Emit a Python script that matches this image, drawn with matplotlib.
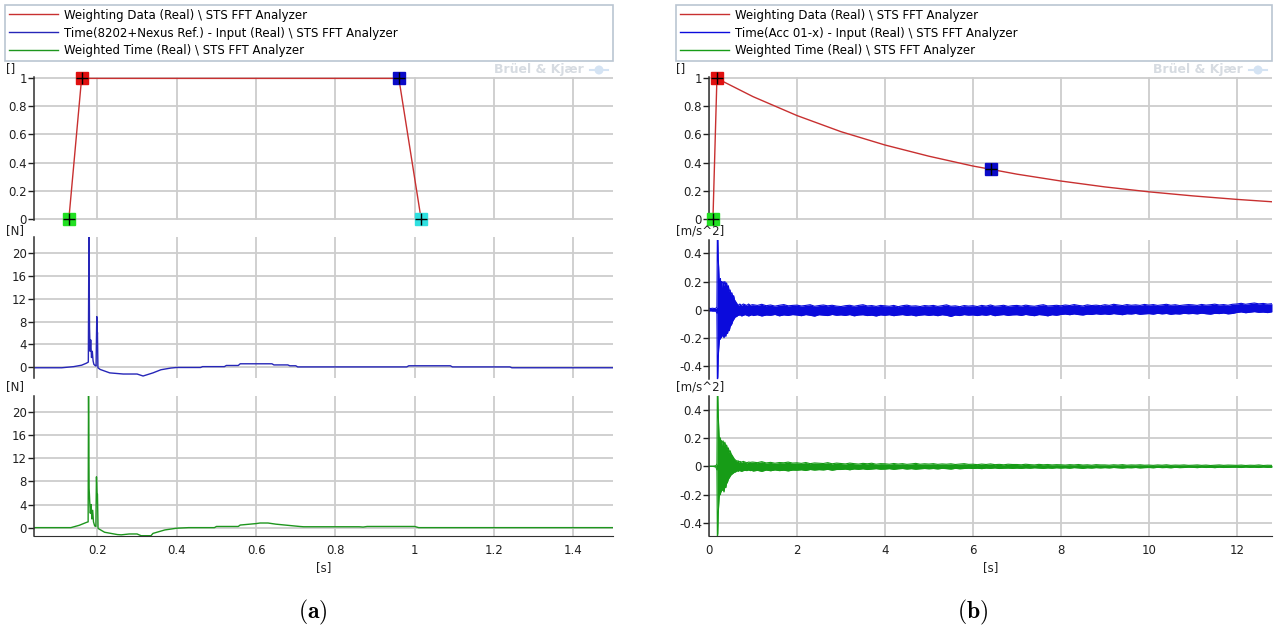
import numpy as np
import matplotlib
matplotlib.use("Agg")
import matplotlib.pyplot as plt
from matplotlib.patches import Ellipse
from matplotlib.ticker import FuncFormatter, MultipleLocator

plt.rcParams["font.family"] = "DejaVu Sans"
plt.rcParams["axes.unicode_minus"] = False
plt.rcParams["mathtext.fontset"] = "cm"

W, H = 1274, 635

RED = "#c83030"
BLUE_A = "#2626b8"
GREEN_A = "#1e961e"
BLUE_B = "#0b0bdc"
GREEN_B = "#179c17"
GRID = "#cdcdcd"

# ---------------- (a) impact hammer, transient window ----------------
a_win_t = [0.128, 0.160, 0.960, 1.016]
a_win_v = [0.0, 1.0, 1.0, 0.0]
a_marker_colors = ["#22e022", "#e01010", "#0b0bc8", "#30e0e0"]

a_force_t = [0.040, 0.110, 0.140, 0.160, 0.172, 0.1770, 0.1785, 0.1800, 0.1815,
             0.1830, 0.1850, 0.1870, 0.1890, 0.1910, 0.1940, 0.1965, 0.1983,
             0.1995, 0.2000, 0.2012, 0.207, 0.231, 0.265, 0.300, 0.315, 0.340,
             0.360, 0.385, 0.400, 0.460, 0.465, 0.520, 0.525, 0.555, 0.560,
             0.640, 0.645, 0.680, 0.685, 0.700, 0.705, 0.980, 0.985, 1.090,
             1.095, 1.240, 1.245, 1.500]
a_force_v = [-0.10, -0.10, 0.10, 0.35, 0.70, 0.90, 24.0, 7.0, 2.8,
             4.8, 1.7, 2.8, 1.1, 0.5, 0.3, 0.2, 8.9,
             5.5, 6.1, -0.10, -0.40, -1.00, -1.20, -1.20, -1.55, -1.00,
             -0.45, -0.15, -0.05, -0.05, 0.10, 0.10, 0.30, 0.30, 0.60,
             0.60, 0.40, 0.40, 0.25, 0.25, 0.05, 0.05, 0.25, 0.25,
             0.05, 0.05, -0.10, -0.10]

a_wforce_t = [0.040, 0.133, 0.154, 0.172, 0.1765, 0.1775, 0.1790, 0.1805, 0.1820,
              0.1840, 0.1860, 0.1880, 0.1900, 0.1930, 0.1960, 0.1975, 0.1990,
              0.2000, 0.2015, 0.2030, 0.218, 0.250, 0.260, 0.280, 0.300, 0.310,
              0.335, 0.340, 0.370, 0.400, 0.430, 0.495, 0.500, 0.555, 0.560,
              0.600, 0.610, 0.630, 0.650, 0.680, 0.710, 0.720, 0.860, 0.870,
              0.880, 1.000, 1.010, 1.500]
a_wforce_v = [0.0, 0.0, 0.4, 0.9, 1.0, 24.0, 6.8, 4.5, 2.5,
              4.0, 1.5, 3.0, 1.0, 0.3, 0.2, 8.8, 6.0,
              5.8, -0.10, -0.20, -0.80, -1.20, -1.25, -1.10, -1.10, -1.40,
              -1.40, -1.00, -0.40, -0.10, 0.0, 0.0, 0.20, 0.20, 0.45,
              0.70, 0.80, 0.80, 0.60, 0.40, 0.20, 0.15, 0.15, 0.10,
              0.20, 0.20, 0.0, 0.0]

# ---------------- (b) accelerometer, exponential window ----------------
b_win_t = [0.09, 0.18, 1.0, 2.0, 3.0, 4.0, 5.0, 6.0, 6.4, 7.0, 8.0, 9.0,
           10.0, 11.0, 12.0, 12.8]
b_win_v = [0.0, 1.0, 0.87, 0.735, 0.62, 0.525, 0.445, 0.375, 0.352, 0.317,
           0.268, 0.226, 0.191, 0.162, 0.137, 0.12]
b_marker_idx = [0, 1, 8]
b_marker_colors = ["#22e022", "#e01010", "#0b0bc8"]

# dense traces stored as min/max per sample column
b_head_t = [0.00, 0.04, 0.08, 0.12, 0.16, 0.18, 0.19, 0.20, 0.21, 0.22, 0.23,
            0.24, 0.25, 0.26, 0.27, 0.28, 0.29, 0.30, 0.32, 0.34, 0.36, 0.38,
            0.40, 0.42, 0.44, 0.46, 0.48, 0.50, 0.52, 0.54, 0.56, 0.58, 0.60,
            0.62, 0.64, 0.66, 0.68, 0.70, 0.74, 0.78, 0.82, 0.86, 0.90, 0.94,
            0.98]
b_tail_t = list(np.round(np.arange(1.0, 12.85, 0.1), 1))

b_acc_hi = [0.010, 0.008, 0.010, 0.008, 0.010, 0.020, 0.550, 0.520, 0.360, 0.300, 0.220,
            0.210, 0.180, 0.220, 0.170, 0.200, 0.160, 0.190, 0.200, 0.170, 0.200, 0.180,
            0.190, 0.150, 0.170, 0.130, 0.140, 0.110, 0.120, 0.090, 0.100, 0.070, 0.060,
            0.050, 0.040, 0.035, 0.030, 0.040, 0.030, 0.040, 0.035, 0.030, 0.040, 0.030,
            0.035,
            0.035, 0.030, 0.038, 0.028, 0.033, 0.025, 0.031, 0.036, 0.027, 0.030,
            0.032, 0.026, 0.030, 0.035, 0.024, 0.029, 0.033, 0.027, 0.031, 0.025,
            0.022, 0.028, 0.031, 0.024, 0.030, 0.035, 0.026, 0.029, 0.023, 0.030,
            0.027, 0.024, 0.030, 0.021, 0.028, 0.032, 0.025, 0.027, 0.022, 0.029,
            0.026, 0.030, 0.023, 0.028, 0.034, 0.024, 0.027, 0.021, 0.029, 0.025,
            0.028, 0.022, 0.030, 0.025, 0.033, 0.024, 0.027, 0.031, 0.023, 0.028,
            0.030, 0.025, 0.032, 0.027, 0.024, 0.030, 0.035, 0.026, 0.028, 0.031,
            0.027, 0.033, 0.029, 0.036, 0.030, 0.026, 0.034, 0.029, 0.032, 0.028,
            0.035, 0.030, 0.038, 0.033, 0.029, 0.036, 0.031, 0.034, 0.030, 0.037,
            0.032, 0.036, 0.030, 0.034, 0.038, 0.031, 0.035, 0.029, 0.033, 0.036,
            0.034, 0.030, 0.037, 0.032, 0.035, 0.039, 0.033, 0.036, 0.031, 0.038,
            0.040, 0.045, 0.038, 0.043, 0.047, 0.041, 0.044, 0.039, 0.042]
b_acc_lo = [-0.010, -0.008, -0.010, -0.010, -0.010, -0.030, -0.500, -0.480, -0.340, -0.280, -0.240,
            -0.200, -0.190, -0.210, -0.180, -0.200, -0.170, -0.190, -0.180, -0.200, -0.170, -0.190,
            -0.160, -0.170, -0.140, -0.150, -0.120, -0.110, -0.100, -0.080, -0.070, -0.060, -0.050,
            -0.050, -0.045, -0.040, -0.040, -0.035, -0.045, -0.040, -0.035, -0.040, -0.045, -0.040,
            -0.035,
            -0.042, -0.036, -0.045, -0.038, -0.040, -0.034, -0.044, -0.037, -0.041, -0.035,
            -0.038, -0.043, -0.035, -0.040, -0.046, -0.036, -0.039, -0.042, -0.034, -0.040,
            -0.037, -0.041, -0.035, -0.044, -0.038, -0.036, -0.042, -0.039, -0.045, -0.037,
            -0.040, -0.036, -0.043, -0.038, -0.035, -0.041, -0.037, -0.044, -0.039, -0.036,
            -0.041, -0.037, -0.043, -0.036, -0.040, -0.048, -0.038, -0.042, -0.035, -0.039,
            -0.037, -0.042, -0.036, -0.040, -0.034, -0.043, -0.038, -0.035, -0.041, -0.037,
            -0.036, -0.041, -0.034, -0.039, -0.043, -0.035, -0.038, -0.044, -0.036, -0.040,
            -0.034, -0.031, -0.036, -0.030, -0.035, -0.038, -0.032, -0.034, -0.029, -0.033,
            -0.030, -0.034, -0.028, -0.032, -0.036, -0.029, -0.031, -0.027, -0.033, -0.030,
            -0.028, -0.032, -0.026, -0.030, -0.027, -0.033, -0.029, -0.031, -0.026, -0.029,
            -0.027, -0.030, -0.025, -0.029, -0.032, -0.026, -0.028, -0.024, -0.030, -0.027,
            -0.020, -0.016, -0.022, -0.018, -0.014, -0.019, -0.017, -0.021, -0.015]

b_wacc_hi = [0.000, 0.000, 0.000, 0.002, 0.005, 0.020, 0.550, 0.500, 0.360, 0.280, 0.210,
             0.200, 0.170, 0.200, 0.160, 0.180, 0.150, 0.170, 0.180, 0.150, 0.170, 0.140,
             0.150, 0.120, 0.130, 0.100, 0.110, 0.090, 0.080, 0.070, 0.060, 0.050, 0.045,
             0.040, 0.035, 0.040, 0.030, 0.035, 0.030, 0.035, 0.030, 0.025, 0.030, 0.028,
             0.030,
             0.030, 0.026, 0.033, 0.024, 0.028, 0.022, 0.027, 0.025, 0.030, 0.023,
             0.025, 0.021, 0.027, 0.019, 0.024, 0.022, 0.020, 0.026, 0.018, 0.023,
             0.020, 0.017, 0.023, 0.019, 0.016, 0.021, 0.018, 0.022, 0.015, 0.019,
             0.018, 0.015, 0.020, 0.016, 0.019, 0.014, 0.017, 0.021, 0.015, 0.018,
             0.016, 0.019, 0.014, 0.017, 0.015, 0.018, 0.013, 0.016, 0.019, 0.014,
             0.015, 0.012, 0.016, 0.013, 0.017, 0.012, 0.014, 0.011, 0.015, 0.013,
             0.013, 0.011, 0.015, 0.012, 0.010, 0.014, 0.011, 0.013, 0.010, 0.012,
             0.011, 0.009, 0.012, 0.010, 0.013, 0.009, 0.011, 0.008, 0.012, 0.010,
             0.010, 0.008, 0.011, 0.009, 0.012, 0.008, 0.010, 0.009, 0.011, 0.008,
             0.009, 0.007, 0.010, 0.008, 0.011, 0.007, 0.009, 0.008, 0.010, 0.007,
             0.008, 0.010, 0.007, 0.009, 0.006, 0.008, 0.010, 0.007, 0.009, 0.008,
             0.007, 0.009, 0.006, 0.008, 0.007, 0.010, 0.006, 0.008, 0.007]
b_wacc_lo = [0.000, 0.000, 0.000, -0.002, -0.005, -0.030, -0.500, -0.470, -0.330, -0.270, -0.220,
             -0.190, -0.180, -0.200, -0.160, -0.180, -0.150, -0.170, -0.160, -0.180, -0.140, -0.150,
             -0.120, -0.110, -0.090, -0.080, -0.070, -0.060, -0.055, -0.050, -0.045, -0.040, -0.040,
             -0.035, -0.030, -0.035, -0.030, -0.030, -0.035, -0.030, -0.028, -0.030, -0.025, -0.030,
             -0.028,
             -0.033, -0.028, -0.035, -0.026, -0.031, -0.025, -0.030, -0.027, -0.032, -0.026,
             -0.027, -0.024, -0.029, -0.022, -0.026, -0.023, -0.025, -0.021, -0.027, -0.022,
             -0.022, -0.019, -0.024, -0.018, -0.021, -0.017, -0.022, -0.019, -0.016, -0.020,
             -0.019, -0.016, -0.021, -0.017, -0.015, -0.019, -0.016, -0.020, -0.017, -0.015,
             -0.017, -0.015, -0.018, -0.014, -0.016, -0.019, -0.014, -0.017, -0.015, -0.013,
             -0.015, -0.013, -0.016, -0.012, -0.014, -0.011, -0.015, -0.013, -0.012, -0.014,
             -0.012, -0.014, -0.011, -0.013, -0.010, -0.012, -0.014, -0.011, -0.013, -0.010,
             -0.012, -0.010, -0.013, -0.009, -0.011, -0.014, -0.010, -0.012, -0.009, -0.011,
             -0.009, -0.011, -0.008, -0.010, -0.012, -0.009, -0.010, -0.008, -0.011, -0.009,
             -0.008, -0.010, -0.007, -0.009, -0.008, -0.010, -0.007, -0.009, -0.008, -0.006,
             -0.007, -0.009, -0.006, -0.008, -0.007, -0.009, -0.006, -0.008, -0.007, -0.006,
             -0.006, -0.008, -0.005, -0.007, -0.006, -0.008, -0.005, -0.007, -0.006]

legend_a = ["Weighting Data (Real) \\ STS FFT Analyzer",
            "Time(8202+Nexus Ref.) - Input (Real) \\ STS FFT Analyzer",
            "Weighted Time (Real) \\ STS FFT Analyzer"]
legend_b = ["Weighting Data (Real) \\ STS FFT Analyzer",
            "Time(Acc 01-x) - Input (Real) \\ STS FFT Analyzer",
            "Weighted Time (Real) \\ STS FFT Analyzer"]


def px_axes(fig, left, top, right, bottom):
    return fig.add_axes([left / W, 1 - bottom / H, (right - left) / W,
                         (bottom - top) / H])


def fmt_g(v, _pos):
    return f"{v:g}"


def style_panel(ax, xlim, ylim, xstep, ystep, bottom_axis):
    ax.set_xlim(*xlim)
    ax.set_ylim(*ylim)
    ax.xaxis.set_major_locator(MultipleLocator(xstep))
    ax.yaxis.set_major_locator(MultipleLocator(ystep))
    ax.yaxis.set_major_formatter(FuncFormatter(fmt_g))
    ax.xaxis.set_major_formatter(FuncFormatter(fmt_g))
    ax.grid(True, color=GRID, lw=1.3)
    ax.set_axisbelow(True)
    for side in ("top", "right"):
        ax.spines[side].set_visible(False)
    ax.spines["left"].set_color("#303030")
    ax.spines["left"].set_linewidth(1.1)
    ax.spines["bottom"].set_visible(bottom_axis)
    ax.spines["bottom"].set_color("#303030")
    ax.tick_params(axis="y", length=4, width=1, pad=1, labelsize=8.5,
                   colors="#202020")
    ax.tick_params(axis="x", length=0, pad=6, labelsize=8.5, colors="#202020",
                   labelbottom=bottom_axis)
    ax.set_facecolor("white")


def draw_markers(ax, ts, vs, colors):
    for t, v, c in zip(ts, vs, colors):
        ax.plot(t, v, "s", ms=8.5, mfc=c, mec=c, clip_on=False, zorder=5)
        ax.plot(t, v, "+", ms=9, color="black", mew=1.0, clip_on=False, zorder=6)


def draw_legend(fig, rect, handles, labels):
    lax = px_axes(fig, *rect)
    lax.axis("off")
    leg = lax.legend(handles, labels, loc="upper left", bbox_to_anchor=(0, 0, 1, 1),
                     mode="expand", borderaxespad=0, frameon=True, fancybox=False,
                     edgecolor="#a9b7c6", fontsize=8.5, handlelength=4.2,
                     handletextpad=0.5, labelspacing=0.42, borderpad=0.3)
    leg.get_frame().set_linewidth(1.2)
    for line in leg.get_lines():
        line.set_linewidth(1.0)


def unit_text(fig, x, y, s):
    fig.text(x / W, 1 - y / H, s, fontsize=8.5, color="#202020",
             ha="left", va="center")


def watermark(fig, x, y):
    # grey company mark with its small round logo
    fig.text(x / W, 1 - y / H, "Brüel & Kjær", fontsize=9, color="#d6dbe1",
             fontweight="bold", ha="right", va="center")
    cx, cy = (x + 15) / W, 1 - y / H
    fig.patches.append(Ellipse((cx, cy), 9 / W, 9 / H, transform=fig.transFigure,
                               facecolor="#d4e3f3", edgecolor="none"))
    fig.lines.append(plt.Line2D([cx - 9 / W, cx + 9 / W], [cy, cy],
                                transform=fig.transFigure, color="#d4e3f3", lw=1.5))


def main():
    fig = plt.figure(figsize=(W / 100, H / 100), dpi=100)
    fig.patch.set_facecolor("white")

    # ---------- column (a) ----------
    xl_a = (0.04, 1.5)
    ax1 = px_axes(fig, 34, 77, 613, 220)
    style_panel(ax1, xl_a, (-0.01, 1.01), 0.2, 0.2, False)
    h_red, = ax1.plot(a_win_t, a_win_v, color=RED, lw=1.0)
    draw_markers(ax1, a_win_t, a_win_v, a_marker_colors)

    ax2 = px_axes(fig, 34, 237, 613, 378)
    style_panel(ax2, xl_a, (-1.9, 22.9), 0.2, 4, False)
    h_blue, = ax2.plot(a_force_t, a_force_v, color=BLUE_A, lw=1.0)

    ax3 = px_axes(fig, 34, 396, 613, 536)
    style_panel(ax3, xl_a, (-1.45, 22.8), 0.2, 4, True)
    h_green, = ax3.plot(a_wforce_t, a_wforce_v, color=GREEN_A, lw=1.0)
    ax3.set_xlabel("[s]", fontsize=8.5, labelpad=3, color="#202020")

    draw_legend(fig, (5, 5, 613, 60), [h_red, h_blue, h_green], legend_a)
    unit_text(fig, 6, 69, "[]")
    unit_text(fig, 6, 231, "[N]")
    unit_text(fig, 6, 387, "[N]")
    watermark(fig, 584, 70)
    fig.text(313 / W, 1 - 612 / H, r"$\mathbf{(a)}$", fontsize=17,
             ha="center", va="center")

    # ---------- column (b) ----------
    xl_b = (0.0, 12.8)
    bx1 = px_axes(fig, 709, 77, 1272, 220)
    style_panel(bx1, xl_b, (-0.01, 1.01), 2, 0.2, False)
    g_red, = bx1.plot(b_win_t, b_win_v, color=RED, lw=1.0)
    draw_markers(bx1, [b_win_t[i] for i in b_marker_idx],
                 [b_win_v[i] for i in b_marker_idx], b_marker_colors)

    t_b = np.array(b_head_t + b_tail_t)
    bx2 = px_axes(fig, 709, 240, 1272, 379)
    style_panel(bx2, xl_b, (-0.493, 0.495), 2, 0.2, False)
    bx2.fill_between(t_b, b_acc_lo, b_acc_hi, color=BLUE_B, lw=0)
    g_blue, = bx2.plot(t_b, b_acc_hi, color=BLUE_B, lw=0.8)
    bx2.plot(t_b, b_acc_lo, color=BLUE_B, lw=0.8)

    bx3 = px_axes(fig, 709, 396, 1272, 536)
    style_panel(bx3, xl_b, (-0.49, 0.495), 2, 0.2, True)
    bx3.fill_between(t_b, b_wacc_lo, b_wacc_hi, color=GREEN_B, lw=0)
    g_green, = bx3.plot(t_b, b_wacc_hi, color=GREEN_B, lw=0.8)
    bx3.plot(t_b, b_wacc_lo, color=GREEN_B, lw=0.8)
    bx3.set_xlabel("[s]", fontsize=8.5, labelpad=3, color="#202020")

    draw_legend(fig, (676, 5, 1272, 60), [g_red, g_blue, g_green], legend_b)
    unit_text(fig, 676, 69, "[]")
    unit_text(fig, 676, 231, "[m/s^2]")
    unit_text(fig, 676, 387, "[m/s^2]")
    watermark(fig, 1243, 70)
    fig.text(973 / W, 1 - 612 / H, r"$\mathbf{(b)}$", fontsize=17,
             ha="center", va="center")

    fig.savefig("out.png", dpi=100, facecolor="white")


if __name__ == "__main__":
    main()
